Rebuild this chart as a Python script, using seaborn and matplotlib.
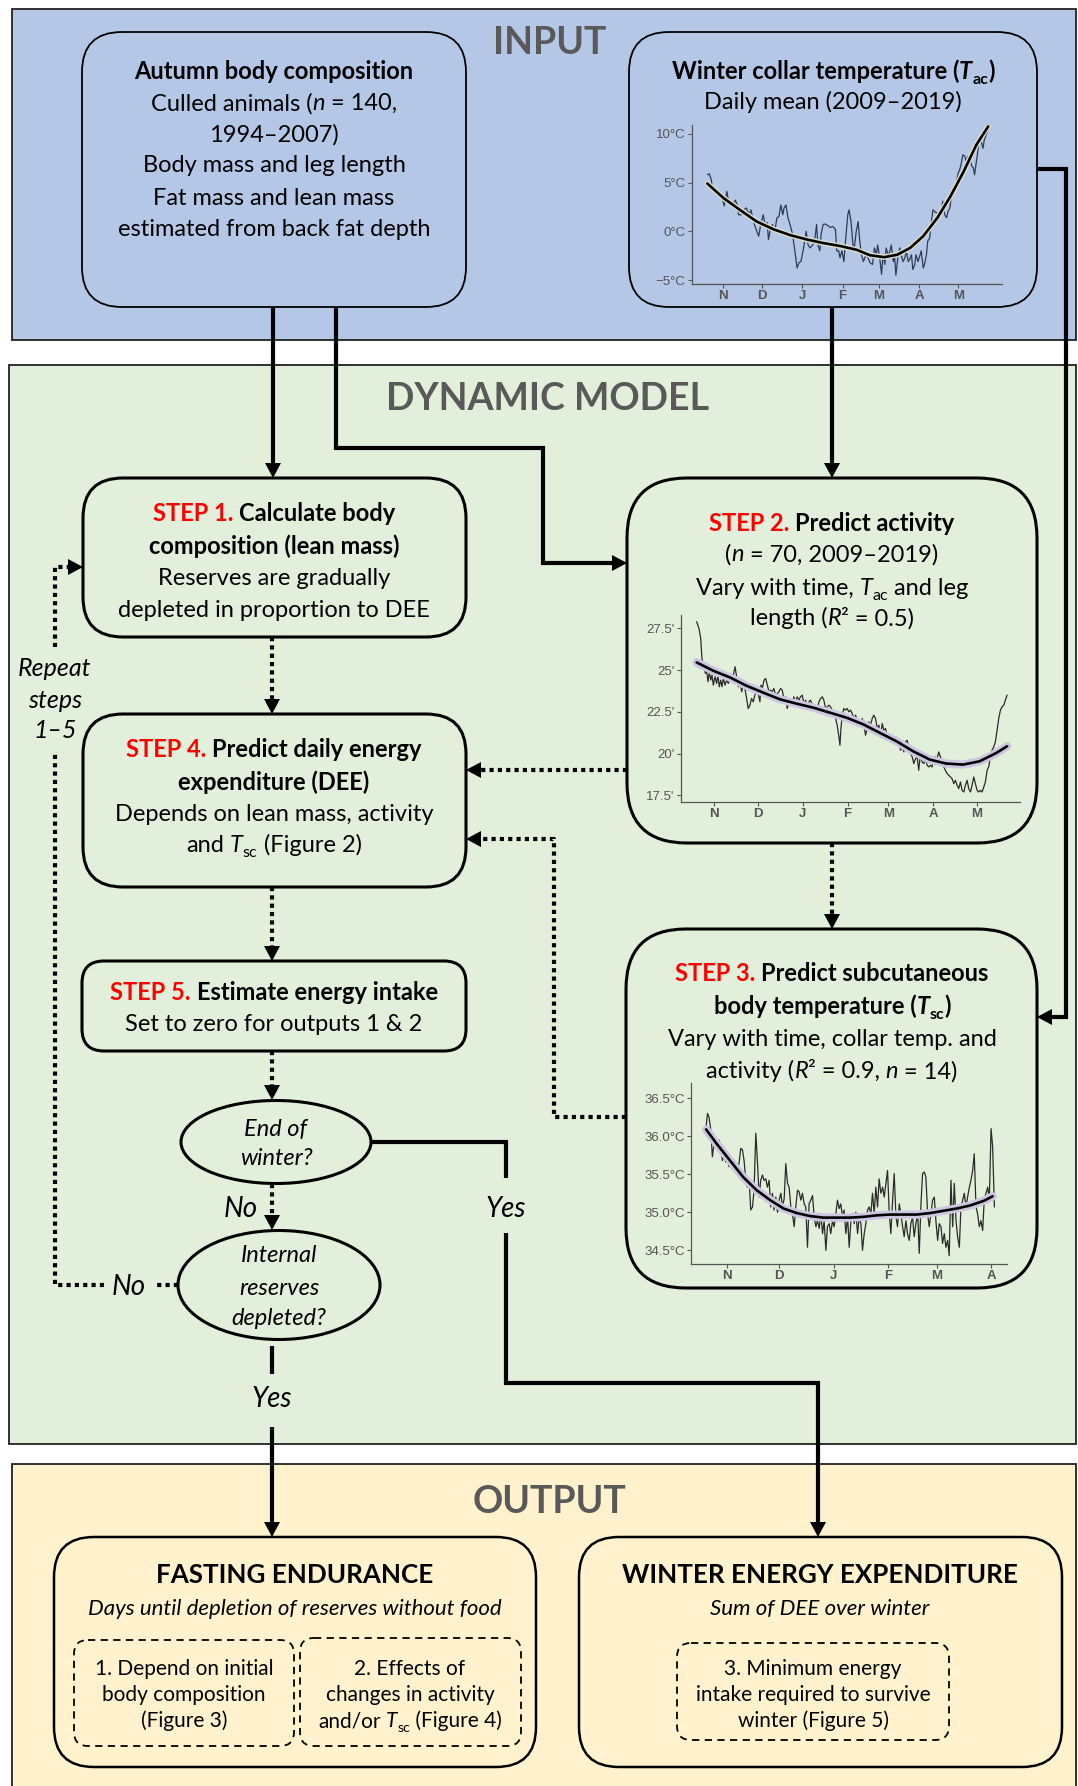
import numpy as np
import matplotlib
matplotlib.use("Agg")
import matplotlib.pyplot as plt
from matplotlib.patches import FancyBboxPatch, Rectangle, Ellipse, Polygon
import seaborn as sns

sns.set_theme(style="white")
plt.rcParams['font.family'] = ['Lato', 'DejaVu Sans']

W, H = 1078, 1786

# ---- mini chart data (days since 1 Nov) ----
month_ticks = [0, 30, 61, 92, 120, 151, 181]
month_labels = ['N', 'D', 'J', 'F', 'M', 'A', 'M']

# winter collar temperature (Tac), daily mean
tac_day = [-12, -10.5, -9, -8, -6, -4, -2.5, -1, 1, 3, 4.5, 5.5, 7.5, 9.5, 11, 12, 14, 16, 18, 20,
           21.5, 23.5, 25.5, 27.5, 29, 31, 32.5, 34, 35, 36.5, 38, 40, 41.5, 43, 44.5, 46, 47, 48.5, 50, 52,
           53.5, 55, 57, 58.5, 60, 62, 64, 65.5, 67, 69, 70.5, 72, 73, 74.5, 75.5, 77, 78.5, 80.5, 82.5, 84.5,
           86.5, 87.5, 89, 90, 91.5, 93, 94, 96, 97, 98.5, 100, 101, 102.5, 104, 105, 106.5, 108, 110, 111.5, 113,
           115, 116.5, 118, 119, 120.5, 122, 123, 124.5, 125.5, 127, 128, 129.5, 131, 132, 133, 134.5, 136, 137, 138.5, 140,
           141, 142.5, 143.5, 145, 146, 147.5, 148.5, 150, 151, 152.5, 154, 155, 156.5, 157.5, 159, 160, 161.5, 163, 164, 165.5,
           166.5, 168, 169, 170.5, 172, 173, 174.5, 175.5, 177, 178, 179.5, 181, 182, 183, 184.5, 186, 187, 188.5, 190, 191,
           192.5, 193.5, 195, 196, 197.5, 199, 200, 201, 202.5, 204]
tac_val = [5.8, 5.9, 5.3, 4.3, 4.0, 3.75, 3.5, 3.6, 2.6, 4.1, 2.9, 3.1, 2.7, 3.2, 2.7, 1.7, 1.7, 2.2, 2.4, 1.7,
           2.2, 1.0, 0.2, -0.5, 0.7, 1.7, 0.5, 0.9, -0.85, 0.2, 0.7, 0.1, 1.4, 1.5, 2.7, 1.7, 2.4, 2.7, 1.4, 0.5,
           -0.3, -1.7, -3.75, -3.2, -3.1, -1.7, 0.0, -1.4, -1.7, -1.4, -1.0, 0.7, -1.4, -2.0, -0.3, 0.7, 0.75, 0.6, 0.4, 0.5,
           0.2, -2.0, -2.0, -2.7, -2.0, -3.1, -1.4, 1.7, 2.2, 1.0, -1.4, -1.7, 0.0, 1.0, -0.7, -2.4, -3.1, -2.4, -2.7, -3.2,
           -3.4, -1.7, -2.4, -1.4, -2.7, -4.4, -2.4, -3.4, -1.7, -2.4, -2.2, -1.4, -3.1, -2.6, -4.5, -2.7, -1.7, -2.4, -3.1, -2.7,
           -2.0, -3.1, -2.9, -2.4, -3.9, -3.4, -2.4, -3.1, -2.7, -2.0, -3.75, -3.4, -2.4, -1.0, -0.7, 0.7, 2.2, 2.0, 1.9, 1.9,
           1.7, 2.0, 3.1, 1.7, 1.4, 2.0, 2.4, 3.4, 4.1, 4.1, 5.1, 6.0, 6.3, 6.8, 7.85, 7.7, 7.2, 7.7, 7.5, 6.8,
           6.5, 5.8, 7.2, 8.2, 9.7, 9.0, 8.5, 9.4, 9.9, 10.4]
tac_fit_day = [-12, 0.5, 13, 26, 39, 52, 65, 77, 90, 103, 113, 124, 134, 144, 154, 165, 175, 185, 195, 204]
tac_fit_val = [4.9, 3.4, 2.2, 1.0, 0.2, -0.4, -0.85, -1.2, -1.5, -1.9, -2.45, -2.65, -2.4, -1.7, -0.5, 1.4, 3.6, 6.1, 8.9, 10.75]
tac_ticks = [-5, 0, 5, 10]
tac_labels = ['\u22125\u00b0C', '0\u00b0C', '5\u00b0C', '10\u00b0C']

# activity
act_day = [-12.2, -10.6, -9.4, -8.7, -8.0, -7.1, -6.2, -5.3, -4.4, -3.4, -2.5, -1.6, -0.7, 0.5, 1.6, 2.5, 3.4, 4.4, 5.3, 6.2,
           7.4, 8.5, 9.7, 10.8, 12.0, 13.1, 14.3, 15.4, 16.6, 17.7, 18.9, 20.0, 21.1, 22.3, 23.4, 24.6, 25.7, 26.9, 28.0, 29.2,
           30.3, 31.5, 32.2, 33.1, 34.3, 35.4, 36.6, 37.7, 38.9, 40.0, 41.1, 42.3, 43.4, 44.6, 45.7, 46.9, 48.0, 49.2, 50.3, 51.5,
           52.6, 53.8, 54.9, 56.1, 57.2, 58.4, 59.5, 60.7, 61.8, 63.0, 64.1, 65.3, 66.4, 67.6, 68.7, 69.9, 71.0, 72.2, 73.3, 74.5,
           75.6, 76.8, 77.9, 79.1, 80.2, 81.4, 82.5, 83.7, 84.8, 86.0, 86.7, 87.4, 88.3, 89.4, 90.6, 91.7, 92.9, 94.0, 95.2, 96.3,
           97.5, 98.6, 99.8, 100.9, 102.1, 103.2, 104.4, 105.5, 106.7, 107.8, 109.0, 110.1, 111.3, 112.4, 113.6, 114.7, 115.9, 117.0, 118.2, 119.3,
           120.5, 121.6, 122.8, 123.9, 125.1, 126.2, 127.4, 128.5, 129.7, 130.8, 132.0, 133.1, 134.3, 135.4, 136.6, 137.7, 138.9, 140.0, 141.1, 142.3,
           143.4, 144.6, 145.7, 146.9, 148.0, 149.2, 150.3, 151.5, 152.6, 153.8, 154.9, 156.1, 157.2, 158.4, 159.5, 160.7, 161.8, 163.0, 164.1, 165.3,
           166.4, 167.6, 168.7, 169.9, 171.0, 172.2, 173.3, 174.5, 175.6, 176.8, 177.9, 179.1, 180.2, 181.4, 182.5, 183.7, 184.8, 186.0, 187.1, 188.3,
           189.4, 190.6, 191.7, 192.9, 194.0, 195.2, 196.3, 197.5, 198.6, 199.8, 200.9, 202.1]
act_val = [27.9, 27.5, 26.9, 25.9, 25.2, 25.4, 24.8, 25.0, 24.3, 24.9, 24.4, 24.7, 24.1, 24.6, 24.2, 24.7, 24.0, 24.4, 24.0, 24.5,
           24.1, 24.4, 24.2, 24.5, 24.3, 24.7, 25.2, 24.6, 24.0, 24.3, 23.7, 24.1, 23.9, 23.3, 22.7, 22.9, 23.3, 23.1, 23.5, 23.8,
           23.6, 23.1, 24.1, 23.9, 24.4, 24.5, 24.1, 23.7, 23.8, 23.7, 23.9, 23.5, 23.6, 23.7, 23.9, 23.8, 23.3, 23.4, 22.7, 23.1,
           23.2, 23.0, 23.4, 23.1, 23.4, 23.2, 23.4, 23.5, 23.0, 23.2, 22.9, 23.1, 23.2, 22.9, 22.8, 22.6, 22.5, 23.1, 23.3, 23.4,
           23.2, 22.7, 22.8, 22.9, 22.8, 22.6, 22.5, 22.1, 21.7, 21.0, 20.5, 21.5, 22.3, 22.7, 22.6, 22.7, 22.5, 22.6, 22.4, 22.1,
           22.3, 22.0, 21.8, 21.7, 22.1, 21.7, 21.1, 21.5, 21.9, 21.7, 22.1, 22.3, 22.1, 21.5, 21.7, 21.0, 21.8, 21.4, 21.5, 21.1,
           21.2, 20.9, 21.0, 20.7, 21.0, 20.6, 20.8, 20.2, 20.4, 20.1, 20.7, 20.8, 20.3, 20.0, 19.8, 19.4, 19.7, 19.8, 19.0, 20.0,
           19.5, 19.4, 19.7, 19.3, 19.2, 19.3, 19.2, 19.6, 19.8, 19.7, 20.1, 19.8, 19.4, 19.2, 19.0, 18.8, 18.7, 18.6, 18.5, 18.2,
           18.4, 18.1, 17.9, 18.3, 17.8, 17.7, 18.1, 18.4, 17.9, 17.7, 18.1, 18.6, 18.2, 17.8, 17.7, 17.8, 17.7, 18.0, 18.3, 19.0,
           19.2, 19.8, 20.2, 20.4, 20.7, 21.4, 22.1, 22.6, 22.8, 22.9, 23.2, 23.5]
act_fit_day = [-12.2, -0.7, 10.8, 22.3, 33.8, 45.3, 56.8, 68.3, 79.8, 91.3, 102.8, 114.3, 125.7, 137.2, 148.7, 160.2, 171.7, 183.2, 194.7, 202.1]
act_fit_val = [25.46, 24.96, 24.56, 24.06, 23.65, 23.25, 22.99, 22.75, 22.45, 22.15, 21.75, 21.24, 20.74, 20.14, 19.64, 19.40, 19.34, 19.54, 20.04, 20.44]
act_ticks = [17.5, 20, 22.5, 25, 27.5]
act_labels = ["17.5'", "20'", "22.5'", "25'", "27.5'"]

# subcutaneous body temperature (Tsc)
tsc_day = [-11.8, -11.0, -10.1, -9.1, -8.2, -7.2, -6.3, -5.3, -4.4, -3.4, -2.5, -1.5, -0.6, 0.4, 1.3, 2.3, 3.2, 4.2, 5.1, 6.1,
           7.0, 8.0, 9.0, 9.9, 10.9, 11.8, 12.8, 13.7, 14.7, 15.6, 16.6, 17.5, 18.5, 19.4, 20.4, 21.3, 22.3, 23.2, 24.2, 25.1,
           26.1, 27.0, 28.0, 29.0, 29.9, 30.9, 31.8, 32.8, 33.7, 34.7, 35.6, 36.6, 37.5, 38.5, 39.4, 40.4, 41.3, 42.3, 43.2, 44.2,
           45.1, 46.1, 47.0, 48.0, 49.0, 49.9, 50.9, 51.8, 52.8, 53.7, 54.7, 55.6, 56.6, 57.5, 58.5, 59.4, 60.4, 61.3, 62.3, 63.2,
           64.2, 65.1, 66.1, 67.0, 68.0, 69.0, 69.9, 70.9, 71.8, 72.8, 73.7, 74.7, 75.6, 76.6, 77.5, 78.5, 79.4, 80.4, 81.3, 82.3,
           83.2, 84.2, 85.1, 86.1, 87.0, 88.0, 89.0, 89.9, 90.9, 91.8, 92.8, 93.7, 94.7, 95.6, 96.6, 97.5, 98.5, 99.4, 100.4, 101.3,
           102.3, 103.2, 104.2, 105.1, 106.1, 107.0, 108.0, 109.0, 109.9, 110.9, 111.8, 112.8, 113.7, 114.7, 115.6, 116.6, 117.5, 118.5, 119.4, 120.4,
           121.3, 122.3, 123.2, 124.2, 125.1, 126.1, 127.0, 128.0, 129.0, 129.9, 130.9, 131.8, 132.8, 133.7, 134.7, 135.6, 136.6, 137.5, 138.5, 139.4,
           140.4, 141.3, 142.3, 143.2, 144.2, 145.1, 146.1, 147.0, 148.0, 149.0, 149.9, 150.9, 151.8, 152.8]
tsc_val = [36.12, 36.30, 36.25, 36.08, 35.73, 35.90, 35.99, 35.82, 35.95, 35.86, 35.68, 35.75, 35.66, 35.71, 35.60, 35.66, 35.57, 35.62, 35.55, 35.57,
           35.64, 35.84, 35.82, 35.68, 35.42, 35.33, 35.42, 35.03, 35.07, 35.29, 36.04, 35.68, 35.20, 35.42, 35.49, 35.42, 35.44, 35.33, 35.42, 35.07,
           35.25, 35.03, 35.20, 35.00, 35.16, 35.25, 35.07, 35.18, 35.64, 35.38, 35.33, 35.07, 34.98, 34.81, 35.07, 35.29, 35.27, 35.16, 35.25, 35.11,
           35.07, 34.54, 35.11, 35.16, 35.22, 34.94, 34.81, 34.89, 34.79, 34.98, 34.72, 34.89, 34.50, 34.81, 34.85, 34.72, 34.89, 34.81, 34.98, 35.16,
           35.05, 35.11, 34.94, 35.03, 34.72, 34.94, 34.54, 34.89, 34.98, 34.85, 35.00, 34.72, 34.94, 34.85, 34.50, 34.72, 34.85, 35.03, 35.07, 34.98,
           35.25, 34.98, 35.33, 35.07, 35.44, 35.25, 35.33, 35.20, 35.38, 35.55, 34.98, 34.72, 35.16, 35.51, 34.94, 34.81, 35.11, 34.98, 34.81, 34.68,
           34.89, 34.72, 34.63, 34.85, 34.94, 34.68, 34.85, 34.98, 34.46, 35.11, 35.51, 35.53, 35.46, 34.98, 34.81, 34.98, 35.16, 35.20, 34.89, 34.63,
           34.85, 34.81, 34.59, 34.72, 34.54, 34.63, 34.43, 35.42, 34.81, 35.38, 34.89, 34.68, 34.54, 35.07, 35.16, 35.25, 35.07, 35.20, 35.33, 35.42,
           35.55, 35.77, 35.07, 34.98, 34.81, 34.89, 34.76, 35.16, 35.25, 35.33, 35.16, 36.10, 35.86, 35.07]
tsc_fit_day = [-11.8, -5.7, 1.9, 9.5, 17.1, 24.8, 32.4, 40, 47.6, 55.2, 62.9, 70.5, 78.1, 85.7, 93.3, 101, 108.6, 116.2, 123.8, 131.4, 139, 146.7, 151.8]
tsc_fit_val = [36.09, 35.90, 35.68, 35.46, 35.29, 35.16, 35.05, 34.99, 34.95, 34.93, 34.93, 34.93, 34.94, 34.96, 34.97, 34.97, 34.97, 34.99, 35.02, 35.05, 35.09, 35.15, 35.21]
tsc_ticks = [34.5, 35.0, 35.5, 36.0, 36.5]
tsc_labels = ['34.5\u00b0C', '35.0\u00b0C', '35.5\u00b0C', '36.0\u00b0C', '36.5\u00b0C']

BLUE, GREEN, YELLOW = '#b4c7e7', '#e2efda', '#fff2cc'
RED, GREY = '#ff0000', '#595959'

fig = plt.figure(figsize=(W / 100, H / 100), dpi=100)
ax = fig.add_axes([0, 0, 1, 1])
ax.set_xlim(0, W)
ax.set_ylim(H, 0)
ax.axis('off')
renderer = fig.canvas.get_renderer()


def rich(x, y, parts, size=17):
    # parts: str or (str, style); y is the visual centre of the line
    px = size * 100 / 72
    base = y + px * 0.35
    items, total = [], 0
    for p in parts:
        s, st = (p, {}) if isinstance(p, str) else p
        fs = size * 0.68 if st.get('sub') else size
        dy = px * 0.22 if st.get('sub') else 0
        t = ax.text(0, base + dy, s, fontsize=fs, fontweight=st.get('w', 'normal'),
                    fontstyle='italic' if st.get('it') else 'normal',
                    color=st.get('c', 'black'), va='baseline', ha='left', zorder=5)
        w = t.get_window_extent(renderer).width
        gap = px * 0.24 if st.get('sp') else 0
        items.append((t, gap, w))
        total += gap + w
    cur = x - total / 2
    for t, gap, w in items:
        cur += gap
        t.set_x(cur)
        cur += w


def box(x0, y0, x1, y1, fc, lw=2.2, r=40, ls='-'):
    ax.add_patch(FancyBboxPatch((x0, y0), x1 - x0, y1 - y0,
                                boxstyle=f"round,pad=0,rounding_size={r}",
                                fc=fc, ec='black', lw=lw, ls=ls, zorder=3))


def path(pts, dotted=False, head=True):
    pts = [tuple(p) for p in pts]
    if head:
        (x1, y1), (x2, y2) = pts[-2], pts[-1]
        d = np.array([x2 - x1, y2 - y1], float)
        d /= np.hypot(*d)
        b = np.array([x2, y2]) - d * 15
        n = np.array([-d[1], d[0]])
        ax.add_patch(Polygon([(x2, y2), tuple(b + n * 8), tuple(b - n * 8)],
                             closed=True, fc='black', ec='none', zorder=4))
        pts = pts[:-1] + [tuple(b + d * 1)]
    xs, ys = zip(*pts)
    ax.plot(xs, ys, color='black', lw=3, ls=(0, (1, 1)) if dotted else '-',
            solid_joinstyle='miter', solid_capstyle='butt', dash_capstyle='butt', zorder=2)


# ---- panels ----
ax.add_patch(Rectangle((12, 9), 1064, 331, fc=BLUE, ec='#222222', lw=1.3, zorder=0))
ax.add_patch(Rectangle((9, 365), 1067, 1079, fc=GREEN, ec='#222222', lw=1.3, zorder=0))
ax.add_patch(Rectangle((12, 1464), 1064, 330, fc=YELLOW, ec='#222222', lw=1.3, zorder=0))
for tx, ty, s in [(550, 43, 'INPUT'), (548, 399, 'DYNAMIC MODEL'), (550, 1502, 'OUTPUT')]:
    ax.text(tx, ty, s, fontsize=27, fontweight='bold', color=GREY, ha='center', va='center', zorder=5)

B = {'w': 'bold'}
BS = {'w': 'bold', 'sp': True}
IT = {'it': True}
SUB = {'sub': True}
STEP = {'w': 'bold', 'c': RED}

# ---- input boxes ----
box(82, 32, 466, 307, BLUE, lw=1.3)
rich(274, 71, [('Autumn body composition', B)])
rich(274, 102, ['Culled animals (', ('n', IT), ' = 140,'])
rich(274, 133, ['1994\u20132007)'])
rich(274, 164, ['Body mass and leg length'])
rich(274, 197, ['Fat mass and lean mass'])
rich(274, 228, ['estimated from back fat depth'])

box(629, 32, 1037, 307, BLUE, lw=1.3)
rich(833, 71, [('Winter collar temperature (', B), ('T', {'w': 'bold', 'it': True}),
               ('ac', {'w': 'bold', 'sub': True}), (')', B)])
rich(833, 101, ['Daily mean (2009\u20132019)'])

# ---- dynamic model boxes ----
box(83, 478, 466, 637, GREEN)
rich(274, 513, [('STEP 1.', STEP), ('Calculate body', BS)])
rich(274, 546, [('composition (lean mass)', B)])
rich(274, 577, ['Reserves are gradually'])
rich(274, 609, ['depleted in proportion to DEE'])

box(83, 714, 466, 887, GREEN)
rich(274, 749, [('STEP 4.', STEP), ('Predict daily energy', BS)])
rich(274, 782, [('expenditure (DEE)', B)])
rich(274, 813, ['Depends on lean mass, activity'])
rich(274, 844, ['and', ('T', {'it': True, 'sp': True}), ('sc', SUB), (' (Figure 2)', {})])

box(82, 961, 466, 1051, GREEN, r=22)
rich(274, 992, [('STEP 5.', STEP), ('Estimate energy intake', BS)])
rich(274, 1023, ['Set to zero for outputs 1 & 2'])

box(627, 478, 1037, 843, GREEN, r=60)
rich(832, 523, [('STEP 2.', STEP), ('Predict activity', BS)])
rich(832, 553, ['(', ('n', IT), ' = 70, 2009\u20132019)'])
rich(832, 587, ['Vary with time,', ('T', {'it': True, 'sp': True}), ('ac', SUB), (' and leg', {})])
rich(832, 617, ['length (', ('R', IT), '\u00b2 = 0.5)'])

box(626, 929, 1037, 1288, GREEN, r=60)
rich(832, 973, [('STEP 3.', STEP), ('Predict subcutaneous', BS)])
rich(832, 1006, [('body temperature (', B), ('T', {'w': 'bold', 'it': True}),
                 ('sc', {'w': 'bold', 'sub': True}), (')', B)])
rich(832, 1038, ['Vary with time, collar temp. and'])
rich(832, 1070, ['activity (', ('R', IT), '\u00b2 = 0.9,', ('n', {'it': True, 'sp': True}), ' = 14)'])

ax.add_patch(Ellipse((276, 1142), 190, 83, fc=GREEN, ec='black', lw=2.2, zorder=3))
rich(276, 1128, [('End of', IT)])
rich(276, 1157, [('winter?', IT)])
ax.add_patch(Ellipse((279, 1285), 202, 109, fc=GREEN, ec='black', lw=2.2, zorder=3))
rich(279, 1254, [('Internal', IT)])
rich(279, 1287, [('reserves', IT)])
rich(279, 1317, [('depleted?', IT)])

for s, yy in [('Repeat', 667), ('steps', 699), ('1\u20135', 729)]:
    rich(55, yy, [(s, IT)], size=18)
for s, xx, yy in [('No', 241, 1207), ('No', 129, 1285), ('Yes', 506, 1207), ('Yes', 272, 1397)]:
    rich(xx, yy, [(s, IT)], size=20)

# ---- connectors ----
path([(273, 307), (273, 478)])
path([(336, 307), (336, 448), (543, 448), (543, 563), (627, 563)])
path([(832, 307), (832, 478)])
path([(1037, 169), (1066, 169), (1066, 1017), (1037, 1017)])
path([(371, 1142), (506, 1142), (506, 1178)], head=False)
path([(506, 1233), (506, 1383), (818, 1383), (818, 1537)])
path([(272, 1346), (272, 1374)], head=False)
path([(272, 1427), (272, 1537)])

path([(272, 637), (272, 714)], dotted=True)
path([(627, 770), (466, 770)], dotted=True)
path([(626, 1117), (554, 1117), (554, 839), (466, 839)], dotted=True)
path([(832, 843), (832, 929)], dotted=True)
path([(272, 887), (272, 961)], dotted=True)
path([(272, 1051), (272, 1100)], dotted=True)
path([(272, 1184), (272, 1230)], dotted=True)
path([(178, 1285), (154, 1285)], dotted=True, head=False)
path([(104, 1285), (55, 1285), (55, 753)], dotted=True, head=False)
path([(55, 647), (55, 567), (83, 567)], dotted=True)

# ---- output ----
box(54, 1537, 536, 1767, YELLOW, lw=1.8, r=40)
rich(295, 1574, [('FASTING ENDURANCE', B)], size=18.7)
rich(295, 1607, [('Days until depletion of reserves without food', IT)], size=16)
box(74, 1640, 294, 1746, YELLOW, lw=1.3, r=14, ls=(0, (4, 3)))
box(300, 1638, 521, 1746, YELLOW, lw=1.3, r=14, ls=(0, (4, 3)))
rich(184, 1668, ['1. Depend on initial'], size=15)
rich(184, 1694, ['body composition'], size=15)
rich(184, 1720, ['(Figure 3)'], size=15)
rich(410, 1668, ['2. Effects of'], size=15)
rich(410, 1694, ['changes in activity'], size=15)
rich(410, 1720, ['and/or', ('T', {'it': True, 'sp': True}), ('sc', SUB), (' (Figure 4)', {})], size=15)

box(579, 1537, 1062, 1767, YELLOW, lw=1.8, r=40)
rich(820, 1574, [('WINTER ENERGY EXPENDITURE', B)], size=18.7)
rich(820, 1607, [('Sum of DEE over winter', IT)], size=16)
box(677, 1643, 949, 1740, YELLOW, lw=1.3, r=14, ls=(0, (4, 3)))
rich(813, 1668, ['3. Minimum energy'], size=15)
rich(813, 1694, ['intake required to survive'], size=15)
rich(813, 1720, ['winter (Figure 5)'], size=15)


# ---- mini charts ----
def mini(px, days, vals, fday, fval, ticks, labels, xlim, ylim, line_col, band_col, band_lw=6, lsize=9.5):
    l, t, r, b = px
    a = fig.add_axes([l / W, 1 - b / H, (r - l) / W, (b - t) / H])
    a.set_facecolor('none')
    sns.lineplot(x=days, y=vals, ax=a, color=line_col, linewidth=0.9, sort=False)
    a.plot(fday, fval, color=band_col, lw=band_lw, solid_capstyle='round', zorder=3)
    a.plot(fday, fval, color='black', lw=1.9, zorder=4)
    a.set_xlim(*xlim)
    a.set_ylim(*ylim)
    keep = [i for i, m in enumerate(month_ticks) if xlim[0] < m < xlim[1] - 5]
    a.set_xticks([month_ticks[i] for i in keep], labels=[month_labels[i] for i in keep])
    a.set_yticks(ticks, labels=labels)
    a.set_xlabel('')
    a.set_ylabel('')
    for sp in ['top', 'right']:
        a.spines[sp].set_visible(False)
    for sp in ['left', 'bottom']:
        a.spines[sp].set_color('#555555')
        a.spines[sp].set_linewidth(0.9)
    a.tick_params(bottom=True, left=True, length=3, width=0.8, color='#555555',
                  labelcolor='#555555', labelsize=lsize, pad=1.5)
    for lb in a.get_xticklabels():
        lb.set_fontweight('bold')
        lb.set_fontfamily('Liberation Sans')
    for lb in a.get_yticklabels():
        lb.set_fontfamily('Liberation Sans')
    return a


mini((692, 125, 1002, 284), tac_day, tac_val, tac_fit_day, tac_fit_val, tac_ticks, tac_labels,
     (-23.8, 214.6), (-5.4, 10.9), '#2f3b52', '#dcdcc8', band_lw=4)
mini((681, 615, 1020, 802), act_day, act_val, act_fit_day, act_fit_val, act_ticks, act_labels,
     (-23, 211), (17.1, 28.3), '#2b2b2b', '#cdc6e0')
mini((691, 1083, 1007, 1264), tsc_day, tsc_val, tsc_fit_day, tsc_fit_val, tsc_ticks, tsc_labels,
     (-20.4, 160), (34.32, 36.7), '#2b2b2b', '#cdc6e0')

fig.savefig('out.png', dpi=100)
